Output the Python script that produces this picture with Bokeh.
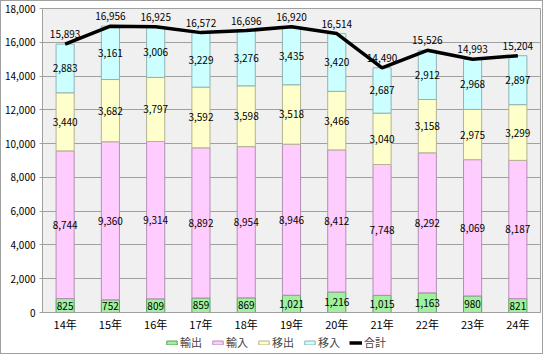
import numpy as np
from bokeh.plotting import figure
from bokeh.layouts import column
from bokeh.models import ColumnDataSource, FactorRange, Range1d, NumeralTickFormatter, FixedTicker, Legend, LegendItem
from bokeh.core.properties import value
from bokeh.embed import file_html
from bokeh.resources import INLINE

years = ["14年", "15年", "16年", "17年", "18年", "19年", "20年", "21年", "22年", "23年", "24年"]
exports = [825, 752, 809, 859, 869, 1021, 1216, 1015, 1163, 980, 821]        # 輸出
imports = [8744, 9360, 9314, 8892, 8954, 8946, 8412, 7748, 8292, 8069, 8187]  # 輸入
ship_out = [3440, 3682, 3797, 3592, 3598, 3518, 3466, 3040, 3158, 2975, 3299]  # 移出
ship_in = [2883, 3161, 3006, 3229, 3276, 3435, 3420, 2687, 2912, 2968, 2897]   # 移入
totals = [15893, 16956, 16925, 16572, 16696, 16920, 16514, 14490, 15526, 14993, 15204]  # 合計
series_names = ["輸出", "輸入", "移出", "移入"]
total_name = "合計"
y_ticks = [0, 2000, 4000, 6000, 8000, 10000, 12000, 14000, 16000, 18000]

FONT = "Noto Sans CJK JP"
fills = ["#a0f0a0", "#ffccff", "#ffffcc", "#ccffff"]
edges = ["#5f9f5f", "#b38fb3", "#b3b38f", "#8fb3b3"]

series = [exports, imports, ship_out, ship_in]
keys = ["s0", "s1", "s2", "s3"]
data = {"year": years, "total": totals}
for k, s in zip(keys, series):
    data[k] = s
src = ColumnDataSource(data)

p = figure(width=541, height=333,
           x_range=FactorRange(*years), y_range=Range1d(0, 18000),
           output_backend="svg", toolbar_location=None,
           min_border_left=39, min_border_right=2, min_border_top=7, min_border_bottom=20)
p.background_fill_color = "#f0f0f0"
p.border_fill_color = "white"
p.outline_line_color = "#a0a0a0"

p.vbar_stack(keys, x="year", width=0.4, source=src,
             fill_color=fills, line_color=edges, line_width=1)
p.line(x="year", y="total", source=src, line_color="black", line_width=3.5)

# segment labels
bottom = [0] * len(years)
for s in series:
    mids = [b + v / 2 for b, v in zip(bottom, s)]
    labs = [f"{v:,}" for v in s]
    lsrc = ColumnDataSource(dict(x=years, y=mids, t=labs))
    p.text(x="x", y="y", text="t", source=lsrc, text_align="center", text_baseline="middle",
           text_font=value(FONT), text_font_size="10px", text_color="black")
    bottom = [b + v for b, v in zip(bottom, s)]

tsrc = ColumnDataSource(dict(x=years, y=totals, t=[f"{v:,}" for v in totals]))
p.text(x="x", y="y", text="t", source=tsrc, text_align="center", text_baseline="bottom",
       y_offset=-6, text_font=value(FONT), text_font_size="10px", text_color="black")

p.xgrid.visible = False
p.ygrid.grid_line_color = "#a0a0a0"
p.ygrid.ticker = FixedTicker(ticks=y_ticks)

p.yaxis.ticker = FixedTicker(ticks=y_ticks)
p.yaxis.formatter = NumeralTickFormatter(format="0,0")
p.yaxis.axis_line_color = "#a0a0a0"
p.yaxis.major_tick_line_color = "#a0a0a0"
p.yaxis.major_tick_out = 3
p.yaxis.major_tick_in = 0
p.yaxis.minor_tick_line_color = None
p.yaxis.major_label_standoff = 4
p.yaxis.major_label_text_font = FONT
p.yaxis.major_label_text_font_size = "10px"
p.yaxis.major_label_text_color = "black"

p.xaxis.axis_line_color = "#a0a0a0"
p.xaxis.major_tick_line_color = None
p.xaxis.major_tick_out = 0
p.xaxis.major_tick_in = 0
p.xaxis.major_label_standoff = 3
p.xaxis.major_label_text_font = FONT
p.xaxis.major_label_text_font_size = "11px"
p.xaxis.major_label_text_color = "black"

# legend strip (separate figure without axes, sample glyphs only)
lg = figure(width=541, height=19, output_backend="svg", toolbar_location=None,
            x_axis_type=None, y_axis_type=None,
            x_range=Range1d(0, 1), y_range=Range1d(0, 1),
            min_border_left=0, min_border_right=0, min_border_top=0, min_border_bottom=0)
lg.grid.visible = False
lg.outline_line_color = None
lg.background_fill_color = "white"
lg.border_fill_color = "white"
dummy = ColumnDataSource(dict(x=np.array([np.nan]), top=np.array([np.nan])))
lrs = [lg.vbar(x="x", top="top", width=0.1, source=dummy, fill_color=f, line_color=e)
       for f, e in zip(fills, edges)]
lline = lg.line(x="x", y="top", source=dummy, line_color="black", line_width=3.5)
items = [LegendItem(label=n, renderers=[r]) for n, r in zip(series_names, lrs)]
items.append(LegendItem(label=total_name, renderers=[lline]))
legend = Legend(items=items, orientation="horizontal", location=(123, 3),
                glyph_width=13, glyph_height=5, label_standoff=2, spacing=9,
                padding=0, margin=0, border_line_color=None, background_fill_alpha=0,
                label_text_font=FONT, label_text_font_size="11px", label_height=12)
lg.add_layout(legend, "center")

layout = column(p, lg, spacing=0)
layout.styles = {"border": "1px solid #a0a0a0"}

open("out.html", "w").write(file_html(layout, INLINE))
